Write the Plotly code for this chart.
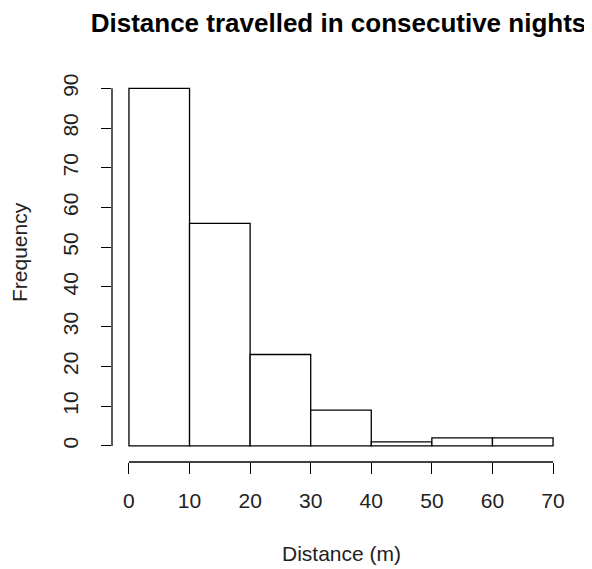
import plotly.graph_objects as go

bin_edges = [0, 10, 20, 30, 40, 50, 60, 70]
counts = [90, 56, 23, 9, 1, 2, 2]
x_ticks = [0, 10, 20, 30, 40, 50, 60, 70]
y_ticks = [0, 10, 20, 30, 40, 50, 60, 70, 80, 90]

mids = [(a + b) / 2 for a, b in zip(bin_edges[:-1], bin_edges[1:])]
widths = [b - a for a, b in zip(bin_edges[:-1], bin_edges[1:])]

font = "Liberation Sans, Arial, sans-serif"

fig = go.Figure(go.Bar(
    x=mids, y=counts, width=widths,
    marker=dict(color="white", line=dict(color="black", width=1.3)),
))

W, H = 584, 561
L, R, T, B = 104, 22, 66, 107
pw, ph = W - L - R, H - T - B
base = T + ph

xspan = bin_edges[-1] - bin_edges[0]
yspan = max(y_ticks)
fig.update_layout(
    width=W, height=H,
    margin=dict(l=L, r=R, t=T, b=B),
    plot_bgcolor="white", paper_bgcolor="white",
    showlegend=False,
    font=dict(family=font, size=21, color="#222"),
    title=dict(text="<b>Distance travelled in consecutive nights</b>",
               x=330.5 / W, xanchor="center", y=1 - 15 / H, yanchor="middle",
               font=dict(size=26, color="black", family=font)),
    xaxis=dict(range=[bin_edges[0] - 0.04 * xspan, bin_edges[-1] + 0.04 * xspan],
               tickvals=x_ticks, ticks="outside", ticklen=11, tickwidth=1.3, tickcolor="black",
               showgrid=False, zeroline=False, showline=False, ticklabelstandoff=9),
    yaxis=dict(range=[-0.045 * yspan, yspan * 1.04],
               tickvals=y_ticks, ticks="outside", ticklen=10, tickwidth=1.3, tickcolor="black",
               tickangle=-90, showgrid=False, zeroline=False, showline=False, ticklabelstandoff=15),
    shapes=[
        dict(type="line", xref="x", yref="paper", x0=bin_edges[0], x1=bin_edges[-1], y0=0, y1=0,
             line=dict(color="black", width=1.3)),
        dict(type="line", xref="paper", yref="y", x0=0, x1=0, y0=min(y_ticks), y1=max(y_ticks),
             line=dict(color="black", width=1.3)),
    ],
    annotations=[
        dict(text="Distance (m)", xref="paper", yref="paper", x=0.5, y=(base - 545) / ph,
             xanchor="center", yanchor="middle", showarrow=False, font=dict(size=21)),
        dict(text="Frequency", xref="paper", yref="paper", x=(11 - L) / pw, y=(base - 244) / ph,
             xanchor="center", yanchor="middle", showarrow=False, textangle=-90, font=dict(size=21)),
    ],
)

fig.write_html("out.html")
